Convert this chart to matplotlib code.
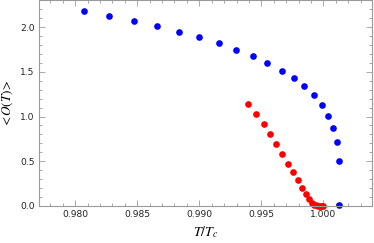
import matplotlib
matplotlib.use("Agg")
import matplotlib.pyplot as plt
from matplotlib.ticker import MultipleLocator

blue_T = [0.98067, 0.98272, 0.98470, 0.98659, 0.98833, 0.99000, 0.99156, 0.99298,
          0.99430, 0.99548, 0.99664, 0.99761, 0.99847, 0.99922, 0.99987, 1.00040,
          1.00078, 1.00110, 1.00129, 1.00126]
blue_O = [2.187, 2.131, 2.071, 2.015, 1.951, 1.888, 1.821, 1.750, 1.675, 1.601,
          1.515, 1.429, 1.340, 1.239, 1.134, 1.011, 0.877, 0.716, 0.500, 0.004]

red_T = [0.99395, 0.99460, 0.99519, 0.99573, 0.99621, 0.99669, 0.99715, 0.99758,
         0.99796, 0.99828, 0.99860, 0.99887, 0.99909, 0.99927, 0.99943, 0.99958,
         0.99972, 0.99986, 1.00000]
red_O = [1.146, 1.026, 0.914, 0.799, 0.687, 0.578, 0.470, 0.377, 0.284, 0.198,
         0.127, 0.071, 0.037, 0.014, 0.005, 0.002, 0.001, 0.0, 0.0]

x_ticks = [0.980, 0.985, 0.990, 0.995, 1.000]
x_tick_labels = ["0.980", "0.985", "0.990", "0.995", "1.000"]
y_ticks = [0.0, 0.5, 1.0, 1.5, 2.0]
y_tick_labels = ["0.0", "0.5", "1.0", "1.5", "2.0"]

fig = plt.figure(figsize=(3.74, 2.43), dpi=100)
ax = fig.add_axes([0.104, 0.153, 0.891, 0.845])

ax.plot(blue_T, blue_O, 'o', color='#0000ff', markersize=4.8, markeredgewidth=0, clip_on=False)
ax.plot(red_T, red_O, 'o', color='#ff0000', markersize=4.8, markeredgewidth=0, clip_on=False)

ax.set_xlim(0.97707, 1.00393)
ax.set_ylim(0.0, 2.30)

ax.set_xticks(x_ticks)
ax.set_xticklabels(x_tick_labels)
ax.set_yticks(y_ticks)
ax.set_yticklabels(y_tick_labels)
ax.xaxis.set_minor_locator(MultipleLocator(0.001))
ax.yaxis.set_minor_locator(MultipleLocator(0.1))

gray = '#9a9a9a'
for s in ax.spines.values():
    s.set_color(gray)
    s.set_linewidth(0.8)
ax.tick_params(which='both', direction='in', top=True, right=True, color=gray,
               labelsize=6.6, labelcolor='#222222', width=0.6, pad=3)
ax.tick_params(which='major', length=4)
ax.tick_params(which='minor', length=2)

ax.set_xlabel(r'$T/T_c$', fontsize=10, labelpad=4, math_fontfamily='stix')
ax.set_ylabel(r'$<\!O(T)\!>$', fontsize=9.5, math_fontfamily='stix')
ax.yaxis.set_label_coords(-0.072, 0.5)

fig.savefig("out.png", dpi=100)
